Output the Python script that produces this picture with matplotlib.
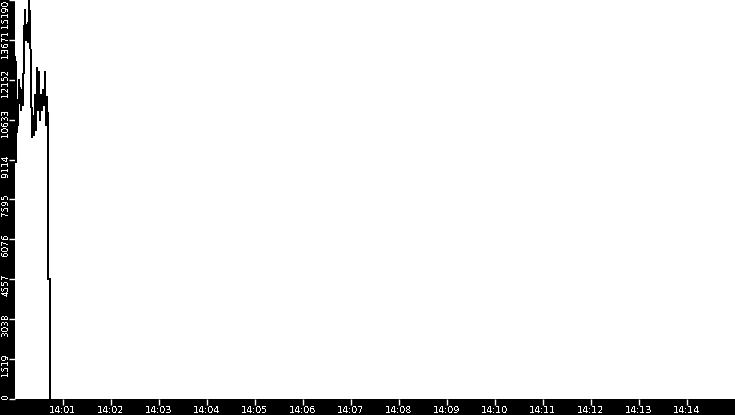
import matplotlib
matplotlib.use('Agg')
import matplotlib.pyplot as plt

# секунды от 14:00:00 и значения
t_sec = [0.6, 1.3, 2.5, 3.8, 5.0, 6.3, 7.5, 8.8, 10.0, 11.3, 12.5, 13.8, 15.0, 16.3,
         17.5, 18.8, 20.0, 21.3, 22.5, 23.8, 25.0, 26.3, 27.5, 28.8, 30.0, 31.3,
         32.5, 33.8, 35.0, 36.3, 37.5, 38.8, 40.0, 41.3, 41.7, 43.2, 43.4]
values = [13020, 9023, 11383, 10431, 12144, 11573, 11002, 11763, 11192, 13667,
          14809, 13667, 14238, 13591, 15152, 14428, 12144, 9974, 10431, 10050,
          11573, 10241, 12601, 11002, 12449, 10621, 11573, 11002, 11763, 11192,
          12449, 10431, 11497, 10241, 4568, 4568, 0]

y_ticks = [0, 1519, 3038, 4557, 6076, 7595, 9114, 10633, 12152, 13671, 15190]
x_ticks = [60 * m for m in range(1, 15)]
x_labels = ['14:%02d' % m for m in range(1, 15)]

plt.rcParams['text.antialiased'] = False
plt.rcParams['font.family'] = 'DejaVu Sans'

fig = plt.figure(figsize=(7.35, 4.15), dpi=100, facecolor='black')
W, H = 735, 415
ax = fig.add_axes([15 / W, 16 / H, 720 / W, 399 / H])
ax.set_facecolor('white')
for s in ax.spines.values():
    s.set_visible(False)

ax.plot(t_sec, values, color='black', linewidth=0.72, antialiased=False)

ax.set_xlim(0, 900)
ax.set_ylim(0, 15190)

ax.set_xticks(x_ticks)
ax.set_xticklabels(x_labels)
ax.tick_params(axis='x', colors='white', length=4, width=1, pad=1.2,
               labelsize=6.8, direction='out')

ax.set_yticks(y_ticks)
ax.set_yticklabels([])
ax.tick_params(axis='y', colors='white', length=4.5, width=1, direction='out')

# подписи оси Y вручную: повернуты, низ текста ~17px ниже деления,
# сверху вниз, без наложений
fig.canvas.draw()
renderer = fig.canvas.get_renderer()
prev_bottom = H + 2  # в пикселях снизу
for v in reversed(y_ticks):
    y_px = ax.transData.transform((0, v))[1]
    txt = fig.text(1.5 / W, 0, str(v), rotation=90, color='white', fontsize=6.4,
                   ha='left', va='bottom')
    length = txt.get_window_extent(renderer).height
    bottom = y_px - 17
    if bottom + length > prev_bottom - 2:
        bottom = prev_bottom - 2 - length
    bottom = max(bottom, 16)
    txt.set_y(bottom / H)
    prev_bottom = bottom

fig.savefig('out.png', dpi=100, facecolor='black')
